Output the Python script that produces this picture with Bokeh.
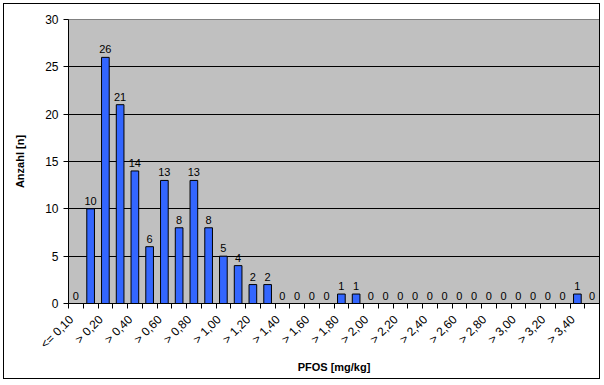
import math
from bokeh.plotting import figure
from bokeh.models import ColumnDataSource, Range1d, FixedTicker, LabelSet
from bokeh.core.properties import value
from bokeh.embed import file_html
from bokeh.resources import INLINE

categories = ["<= 0,10"] + [("> %.2f" % (i / 10)).replace(".", ",") for i in range(1, 36)]
counts = [0, 10, 26, 21, 14, 6, 13, 8, 13, 8, 5, 4, 2, 2,
          0, 0, 0, 0, 1, 1,
          0, 0, 0, 0, 0, 0, 0, 0, 0, 0, 0, 0, 0, 0, 1, 0]
y_ticks = [0, 5, 10, 15, 20, 25, 30]

xs = list(range(len(categories)))
src = ColumnDataSource(dict(x=xs, count=counts, label=[str(c) for c in counts]))

FONT = "Liberation Sans"

p = figure(width=597, height=376, output_backend="svg", toolbar_location=None,
           x_range=Range1d(-0.5, len(categories) - 0.5), y_range=Range1d(0, 30),
           min_border_left=64, min_border_right=2, min_border_top=15, min_border_bottom=77)
p.styles = {"margin-left": "3px", "margin-top": "3px", "border": "1px solid black"}

p.background_fill_color = "#C0C0C0"
p.border_fill_color = "white"
p.outline_line_color = "#808080"
p.outline_line_width = 1

p.vbar(x="x", top="count", width=0.52, source=src,
       fill_color="#3366FF", line_color="black", line_width=1)

labels = LabelSet(x="x", y="count", text="label", source=src, text_align="center",
                  y_offset=4, text_font=value(FONT), text_font_size=value("11px"),
                  text_color="black")
p.add_layout(labels)

# x axis: labels on every second category, ticks on category boundaries
label_pos = [i - 0.3 for i in xs[::2]]
xa = p.xaxis[0]
xa.ticker = FixedTicker(ticks=label_pos, minor_ticks=[i - 0.5 for i in range(len(categories) + 1)])
xa.major_label_overrides = {pos: categories[i] for pos, i in zip(label_pos, xs[::2])}
xa.major_label_orientation = math.pi / 4
xa.major_tick_line_color = None
xa.minor_tick_line_color = "black"
xa.minor_tick_in = 0
xa.minor_tick_out = 5
xa.axis_line_color = "black"
xa.major_label_text_font = FONT
xa.major_label_text_font_size = "12px"
xa.major_label_text_color = "black"
xa.major_label_standoff = 8
xa.axis_label = "PFOS [mg/kg]"
xa.axis_label_text_font = FONT
xa.axis_label_text_font_size = "11px"
xa.axis_label_text_font_style = "bold"
xa.axis_label_text_color = "black"
xa.axis_label_standoff = 2

# y axis
ya = p.yaxis[0]
ya.ticker = FixedTicker(ticks=y_ticks, minor_ticks=[])
ya.major_tick_in = 0
ya.major_tick_out = 5
ya.major_tick_line_color = "black"
ya.axis_line_color = "black"
ya.major_label_text_font = FONT
ya.major_label_text_font_size = "12px"
ya.major_label_text_color = "black"
ya.major_label_standoff = 5
ya.axis_label = "Anzahl [n]"
ya.axis_label_text_font = FONT
ya.axis_label_text_font_size = "11px"
ya.axis_label_text_font_style = "bold"
ya.axis_label_text_color = "black"
ya.axis_label_standoff = 16

p.xgrid.grid_line_color = None
p.ygrid.grid_line_color = "black"
p.ygrid.ticker = FixedTicker(ticks=y_ticks)

open("out.html", "w").write(file_html(p, INLINE))
